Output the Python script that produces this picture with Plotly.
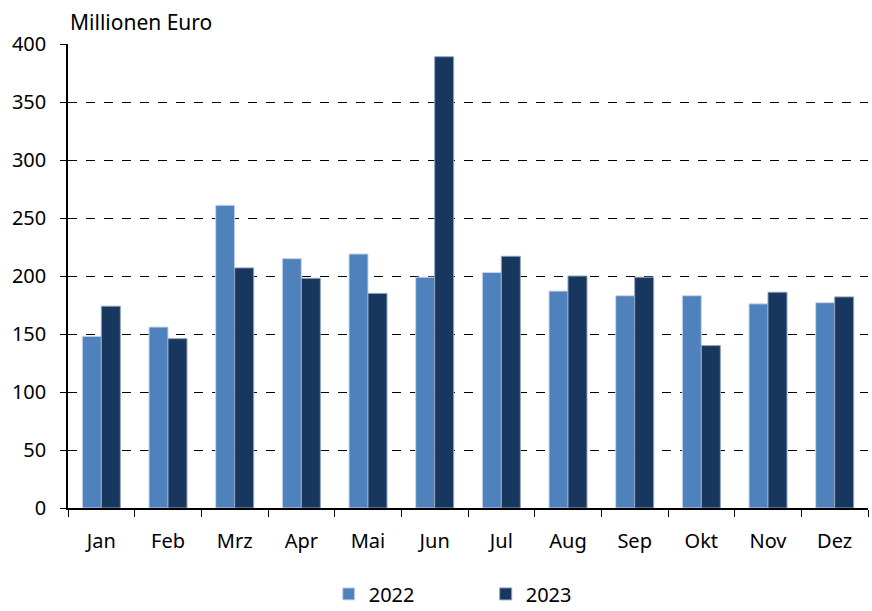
import plotly.graph_objects as go

months = ["Jan", "Feb", "Mrz", "Apr", "Mai", "Jun", "Jul", "Aug", "Sep", "Okt", "Nov", "Dez"]
v2022 = [148, 156, 261, 215, 219, 199, 203, 187, 183, 183, 176, 177]
v2023 = [174, 146, 207, 198, 185, 389, 217, 200, 199, 140, 186, 182]
yticks = [0, 50, 100, 150, 200, 250, 300, 350, 400]

FONT = "Source Sans Pro, Noto Sans, sans-serif"

fig = go.Figure()
fig.add_bar(x=months, y=v2022, name="2022", marker=dict(color="#4F81BD", line=dict(color="#C9D7EA", width=1)))
fig.add_bar(x=months, y=v2023, name="2023", marker=dict(color="#17375E", line=dict(color="#8FA3BC", width=1)))

fig.update_layout(
    width=872, height=611,
    margin=dict(l=68, r=4, t=44, b=103, autoexpand=False),
    paper_bgcolor="white", plot_bgcolor="white",
    font=dict(family=FONT, size=19, color="black"),
    barmode="group", bargap=0.43, bargroupgap=0,
    showlegend=True,
    legend=dict(orientation="h", x=0.557, xref="container", xanchor="center",
                y=0.028, yref="container", yanchor="middle",
                entrywidth=112, entrywidthmode="pixels", font=dict(size=20),
                itemwidth=30, traceorder="normal"),
    annotations=[dict(text="Millionen Euro", x=0, xref="paper", xanchor="left",
                      y=1, yref="paper", yanchor="bottom", yshift=6,
                      showarrow=False, font=dict(size=21, family=FONT))],
)
fig.update_xaxes(showline=True, linecolor="black", linewidth=1.5,
                 ticks="outside", tickson="boundaries", ticklen=7, tickcolor="black",
                 tickfont=dict(size=20), ticklabelstandoff=14, showgrid=False)
fig.update_yaxes(range=[0, 400], tickvals=yticks, showline=True, linecolor="black", linewidth=1.5,
                 ticks="outside", ticklen=6, tickcolor="black", tickfont=dict(size=20),
                 showgrid=True, gridcolor="black", griddash="dash", gridwidth=1,
                 zeroline=False, ticklabelstandoff=10)

fig.write_html("out.html")
